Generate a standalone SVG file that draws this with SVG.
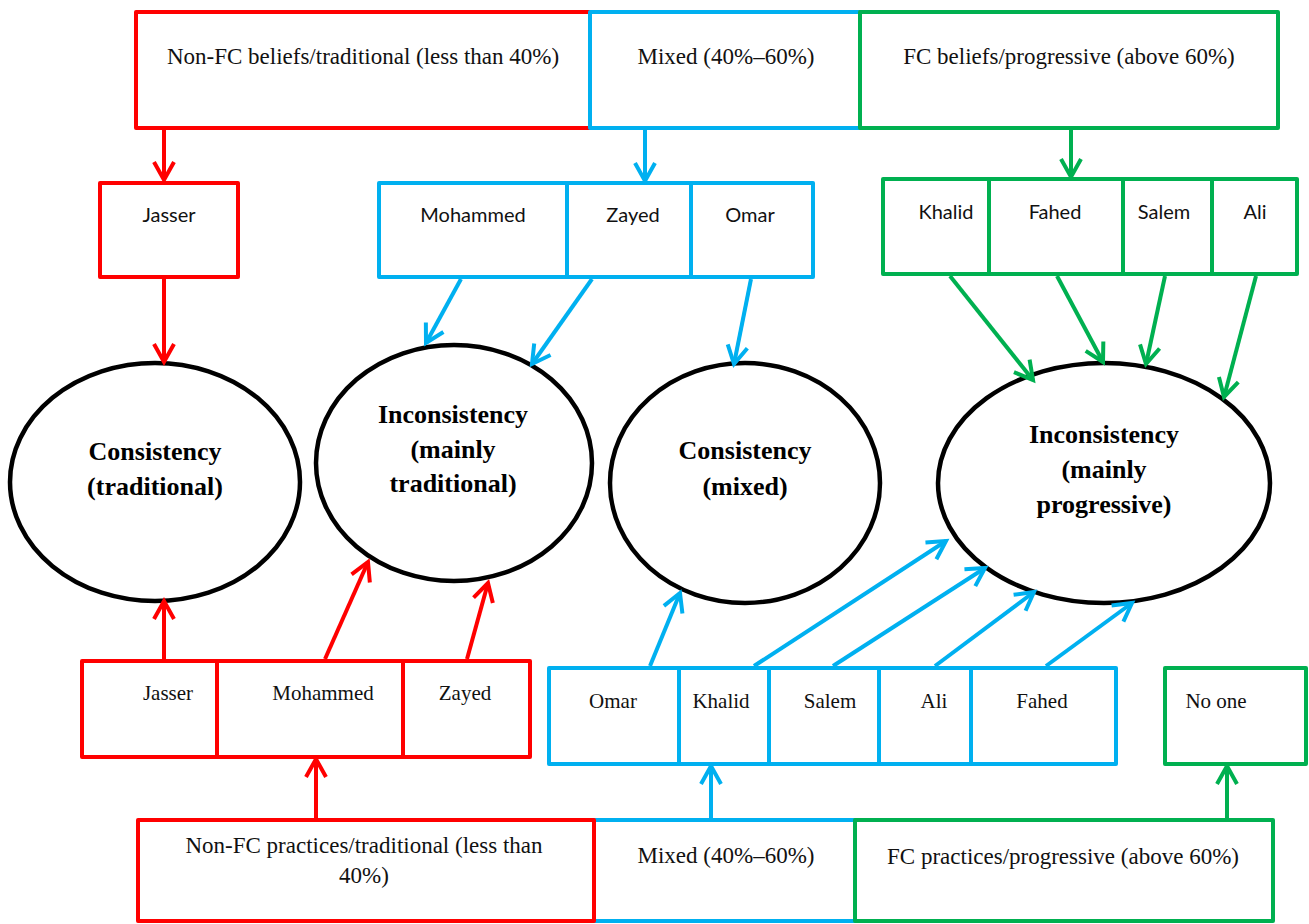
<svg xmlns="http://www.w3.org/2000/svg" width="1309" height="924" viewBox="0 0 1309 924">
  <style>
    .box { fill: #ffffff; stroke-width: 4; stroke-linejoin: round; }
    .r { stroke: #FF0000; }
    .b { stroke: #00B0F0; }
    .g { stroke: #00B050; }
    .cat { font-family: "Liberation Serif", "Times New Roman", serif; font-size: 23px; fill: #111; text-anchor: middle; }
    .nm { font-family: Lato, "Liberation Sans", sans-serif; font-size: 20px; fill: #111; text-anchor: middle; }
    .nm2 { font-family: "Liberation Serif", "Times New Roman", serif; font-size: 21px; fill: #111; text-anchor: middle; }
    .ell { fill: #ffffff; stroke: #000; stroke-width: 4.5; }
    .et { font-family: "Liberation Serif", "Times New Roman", serif; font-size: 26px; font-weight: bold; fill: #000; text-anchor: middle; }
    .cr { stroke: #FF0000; stroke-width: 4; fill: none; marker-end: url(#ah-r); }
    .cb { stroke: #00B0F0; stroke-width: 4; fill: none; marker-end: url(#ah-b); }
    .cg { stroke: #00B050; stroke-width: 4; fill: none; marker-end: url(#ah-g); }
  </style>
  <defs>
    <marker id="ah-r" viewBox="-24 -14 30 28" markerWidth="30" markerHeight="28" refX="0" refY="0" orient="auto" markerUnits="userSpaceOnUse" overflow="visible">
      <path d="M-18,-10 L0,0 L-18,10" fill="none" stroke="#FF0000" stroke-width="4"/>
    </marker>
    <marker id="ah-b" viewBox="-24 -14 30 28" markerWidth="30" markerHeight="28" refX="0" refY="0" orient="auto" markerUnits="userSpaceOnUse" overflow="visible">
      <path d="M-18,-10 L0,0 L-18,10" fill="none" stroke="#00B0F0" stroke-width="4"/>
    </marker>
    <marker id="ah-g" viewBox="-24 -14 30 28" markerWidth="30" markerHeight="28" refX="0" refY="0" orient="auto" markerUnits="userSpaceOnUse" overflow="visible">
      <path d="M-18,-10 L0,0 L-18,10" fill="none" stroke="#00B050" stroke-width="4"/>
    </marker>
  </defs>
  <rect width="1309" height="924" fill="#ffffff"/>

  <!-- belief categories (top row) -->
  <g id="beliefs-traditional">
    <rect class="box r" x="136" y="12" width="454" height="116"/>
    <text class="cat" x="363" y="64">Non-FC beliefs/traditional (less than 40%)</text>
  </g>
  <g id="beliefs-mixed">
    <rect class="box b" x="590" y="12" width="270" height="116"/>
    <text class="cat" x="726" y="64">Mixed (40%–60%)</text>
  </g>
  <g id="beliefs-progressive">
    <rect class="box g" x="860" y="12" width="418" height="116"/>
    <text class="cat" x="1069" y="64">FC beliefs/progressive (above 60%)</text>
  </g>

  <!-- teachers grouped by beliefs -->
  <g id="b-jasser">
    <rect class="box r" x="100" y="183" width="138" height="94"/>
    <text class="nm" x="169" y="222">Jasser</text>
  </g>
  <g id="b-mohammed">
    <rect class="box b" x="379" y="183" width="188" height="94"/>
    <text class="nm" x="473" y="222">Mohammed</text>
  </g>
  <g id="b-zayed">
    <rect class="box b" x="567" y="183" width="124" height="94"/>
    <text class="nm" x="633" y="222">Zayed</text>
  </g>
  <g id="b-omar">
    <rect class="box b" x="691" y="183" width="122" height="94"/>
    <text class="nm" x="750" y="222">Omar</text>
  </g>
  <g id="b-khalid">
    <rect class="box g" x="883" y="179" width="106" height="95"/>
    <text class="nm" x="946" y="219">Khalid</text>
  </g>
  <g id="b-fahed">
    <rect class="box g" x="989" y="179" width="134" height="95"/>
    <text class="nm" x="1055" y="219">Fahed</text>
  </g>
  <g id="b-salem">
    <rect class="box g" x="1123" y="179" width="89" height="95"/>
    <text class="nm" x="1164" y="219">Salem</text>
  </g>
  <g id="b-ali">
    <rect class="box g" x="1212" y="179" width="85" height="95"/>
    <text class="nm" x="1255" y="219">Ali</text>
  </g>

  <!-- outcome ellipses -->
  <g id="consistency-traditional">
    <ellipse class="ell" cx="155" cy="482" rx="145" ry="119"/>
    <text class="et" x="155" y="460">Consistency</text>
    <text class="et" x="155" y="495">(traditional)</text>
  </g>
  <g id="inconsistency-traditional">
    <ellipse class="ell" cx="454" cy="463" rx="138" ry="118"/>
    <text class="et" x="453" y="423">Inconsistency</text>
    <text class="et" x="453" y="458">(mainly</text>
    <text class="et" x="453" y="492">traditional)</text>
  </g>
  <g id="consistency-mixed">
    <ellipse class="ell" cx="745" cy="483" rx="135" ry="120"/>
    <text class="et" x="745" y="459">Consistency</text>
    <text class="et" x="745" y="495">(mixed)</text>
  </g>
  <g id="inconsistency-progressive">
    <ellipse class="ell" cx="1104" cy="483" rx="166" ry="120"/>
    <text class="et" x="1104" y="443">Inconsistency</text>
    <text class="et" x="1104" y="478">(mainly</text>
    <text class="et" x="1104" y="513">progressive)</text>
  </g>

  <!-- teachers grouped by practices -->
  <g id="p-jasser">
    <rect class="box r" x="82" y="661" width="135" height="96"/>
    <text class="nm2" x="168" y="700">Jasser</text>
  </g>
  <g id="p-mohammed">
    <rect class="box r" x="217" y="661" width="186" height="96"/>
    <text class="nm2" x="323" y="700">Mohammed</text>
  </g>
  <g id="p-zayed">
    <rect class="box r" x="403" y="661" width="127" height="96"/>
    <text class="nm2" x="465" y="700">Zayed</text>
  </g>
  <g id="p-omar">
    <rect class="box b" x="549" y="668" width="130" height="96"/>
    <text class="nm2" x="613" y="708">Omar</text>
  </g>
  <g id="p-khalid">
    <rect class="box b" x="679" y="668" width="90" height="96"/>
    <text class="nm2" x="721" y="708">Khalid</text>
  </g>
  <g id="p-salem">
    <rect class="box b" x="769" y="668" width="110" height="96"/>
    <text class="nm2" x="830" y="708">Salem</text>
  </g>
  <g id="p-ali">
    <rect class="box b" x="879" y="668" width="92" height="96"/>
    <text class="nm2" x="934" y="708">Ali</text>
  </g>
  <g id="p-fahed">
    <rect class="box b" x="971" y="668" width="145" height="96"/>
    <text class="nm2" x="1042" y="708">Fahed</text>
  </g>
  <g id="p-noone">
    <rect class="box g" x="1165" y="668" width="141" height="96"/>
    <text class="nm2" x="1216" y="708">No one</text>
  </g>

  <!-- practice categories (bottom row) -->
  <g id="practices-mixed">
    <rect class="box b" x="594" y="820" width="261" height="101"/>
    <text class="cat" x="726" y="863">Mixed (40%–60%)</text>
  </g>
  <g id="practices-traditional">
    <rect class="box r" x="138" y="820" width="456" height="101"/>
    <text class="cat" x="364" y="853">Non-FC practices/traditional (less than</text>
    <text class="cat" x="364" y="883">40%)</text>
  </g>
  <g id="practices-progressive">
    <rect class="box g" x="855" y="820" width="418" height="101"/>
    <text class="cat" x="1063" y="864">FC practices/progressive (above 60%)</text>
  </g>

  <!-- connectors -->
  <g id="connectors">
    <line class="cr" x1="164" y1="130" x2="164" y2="180"/>
    <line class="cr" x1="164" y1="279" x2="164" y2="362"/>
    <line class="cr" x1="164" y1="659" x2="164" y2="601"/>
    <line class="cr" x1="325" y1="659" x2="368" y2="562"/>
    <line class="cr" x1="467" y1="659" x2="488" y2="583"/>
    <line class="cr" x1="316" y1="818" x2="316" y2="759"/>

    <line class="cb" x1="645" y1="130" x2="645" y2="181"/>
    <line class="cb" x1="461" y1="279" x2="426" y2="343"/>
    <line class="cb" x1="592" y1="279" x2="532" y2="364"/>
    <line class="cb" x1="751" y1="279" x2="734" y2="364"/>
    <line class="cb" x1="650" y1="666" x2="680" y2="593"/>
    <line class="cb" x1="754" y1="666" x2="946" y2="541"/>
    <line class="cb" x1="833" y1="666" x2="985" y2="568"/>
    <line class="cb" x1="935" y1="666" x2="1034" y2="592"/>
    <line class="cb" x1="1046" y1="666" x2="1132" y2="603"/>
    <line class="cb" x1="711" y1="818" x2="711" y2="766"/>

    <line class="cg" x1="1071" y1="130" x2="1071" y2="177"/>
    <line class="cg" x1="950" y1="276" x2="1033" y2="380"/>
    <line class="cg" x1="1057" y1="276" x2="1103" y2="362"/>
    <line class="cg" x1="1165" y1="276" x2="1146" y2="364"/>
    <line class="cg" x1="1256" y1="276" x2="1224" y2="397"/>
    <line class="cg" x1="1227" y1="819" x2="1227" y2="766"/>
  </g>
</svg>
